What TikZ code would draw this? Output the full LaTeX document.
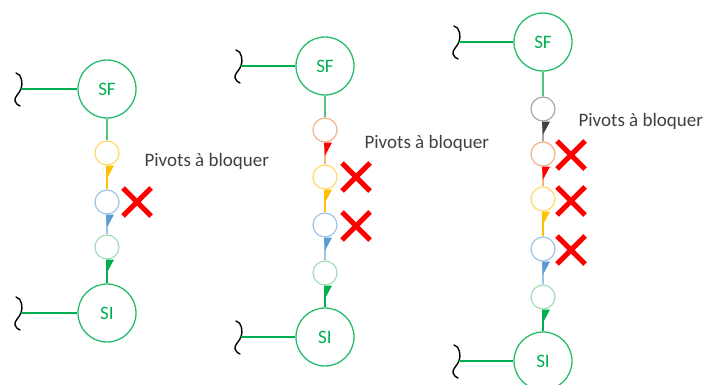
\documentclass[tikz,border=0pt]{standalone}
\usepackage{fontspec}
\setmainfont{Carlito}
\usepackage{xcolor}
\definecolor{leafgreen}{HTML}{00B050}
\definecolor{palegreen}{HTML}{A3DDB7}
\definecolor{stemgreen}{HTML}{4CC47A}
\definecolor{amber}{HTML}{FFC000}
\definecolor{paleamber}{HTML}{FFD966}
\definecolor{sky}{HTML}{5B9BD5}
\definecolor{palesky}{HTML}{9DC3E6}
\definecolor{rust}{HTML}{F4B183}
\definecolor{signal}{HTML}{FF0000}
\definecolor{slate}{HTML}{404040}
\definecolor{ash}{HTML}{A6A6A6}
\usetikzlibrary{positioning}
\tikzset{
  big/.style={circle, draw=leafgreen!85, line width=1.3pt, minimum size=58pt, inner sep=0pt, text=leafgreen, font=\fontsize{19}{19}\selectfont},
  piv/.style={circle, draw=#1, line width=1.2pt, minimum size=24pt, inner sep=0pt},
  link/.style={line width=1.2pt},
  tie/.style={draw=leafgreen, line width=2pt},
  note/.style={anchor=west, text=slate, font=\fontsize{19}{19}\selectfont},
  wave/.pic={\draw[black, line width=1.4pt, line cap=round]
    (-5,-16) .. controls (1,-15) and (2,-5) .. (0,0)
    .. controls (-2,5) and (-7,8) .. (-6,12)
    .. controls (-5,15) and (-3,16) .. (-1,17);},
  cross/.pic={\draw[signal, line width=5pt] (-14,-14) -- (14,14) (-14,14) -- (14,-14);},
}
% link from one pivot down to the next, with the small wedge under the upper one
\newcommand\pivlink[4]{%
  \draw[link, #3] (#1.south) -- (#2.north);
  \fill[#4] ([xshift=-1pt]#1.south) -- ++(8,0) -- ++(-7,13) -- cycle;}

\begin{document}
\begin{tikzpicture}[x=1pt, y=-1pt]
  \useasboundingbox (0,0) rectangle (706,385);

  % chain 1
  \node[big] (sfa) at (107,89) {SF};
  \node[piv=paleamber] (ya) at (107,153) {};
  \node[piv=palesky] (ba) at (107,202) {};
  \node[piv=palegreen] (ga) at (107,247) {};
  \node[big] (sia) at (107,313) {SI};
  \coordinate (wa1) at (21,89);
  \coordinate (wa2) at (21,313);
  \pic at (wa1) {wave}; \pic at (wa2) {wave};
  \draw[tie] (wa1) -- (sfa); \draw[tie] (wa2) -- (sia);
  \draw[link, stemgreen] (sfa.south) -- (ya.north);
  \pivlink{ya}{ba}{amber}{amber}
  \pivlink{ba}{ga}{palesky}{sky}
  \pivlink{ga}{sia}{leafgreen}{leafgreen}
  \pic at (137,202) {cross};
  \node[note] (na) at (141,161) {Pivots à bloquer};

  % chain 2
  \node[big] (sfb) at (325,66) {SF};
  \node[piv=rust] (ob) at (325,130) {};
  \node[piv=paleamber] (yb) at (325,177) {};
  \node[piv=palesky] (bb) at (325,225) {};
  \node[piv=palegreen] (gb) at (325,273) {};
  \node[big] (sib) at (325,337) {SI};
  \coordinate (wb1) at (241,66);
  \coordinate (wb2) at (241,337);
  \pic at (wb1) {wave}; \pic at (wb2) {wave};
  \draw[tie] (wb1) -- (sfb); \draw[tie] (wb2) -- (sib);
  \draw[link, stemgreen] (sfb.south) -- (ob.north);
  \pivlink{ob}{yb}{rust}{signal}
  \pivlink{yb}{bb}{amber}{amber}
  \pivlink{bb}{gb}{palesky}{sky}
  \pivlink{gb}{sib}{leafgreen}{leafgreen}
  \pic at (356,177) {cross};
  \pic at (356,226) {cross};
  \node[note] (nb) at (361,143) {Pivots à bloquer};

  % chain 3
  \node[big] (sfc) at (543,42) {SF};
  \node[piv=ash] (kc) at (543,109) {};
  \node[piv=rust] (oc) at (543,154) {};
  \node[piv=paleamber] (yc) at (543,199) {};
  \node[piv=palesky] (bc) at (543,249) {};
  \node[piv=palegreen] (gc) at (543,297) {};
  \node[big] (sic) at (543,361) {SI};
  \coordinate (wc1) at (459,42);
  \coordinate (wc2) at (459,361);
  \pic at (wc1) {wave}; \pic at (wc2) {wave};
  \draw[tie] (wc1) -- (sfc); \draw[tie] (wc2) -- (sic);
  \draw[link, stemgreen] (sfc.south) -- (kc.north);
  \pivlink{kc}{oc}{ash}{slate}
  \pivlink{oc}{yc}{rust}{signal}
  \pivlink{yc}{bc}{amber}{amber}
  \pivlink{bc}{gc}{palesky}{sky}
  \pivlink{gc}{sic}{leafgreen}{leafgreen}
  \pic at (571,155) {cross};
  \pic at (571,201) {cross};
  \pic at (571,250) {cross};
  \node[note] (nc) at (575,121) {Pivots à bloquer};
\end{tikzpicture}
\end{document}
